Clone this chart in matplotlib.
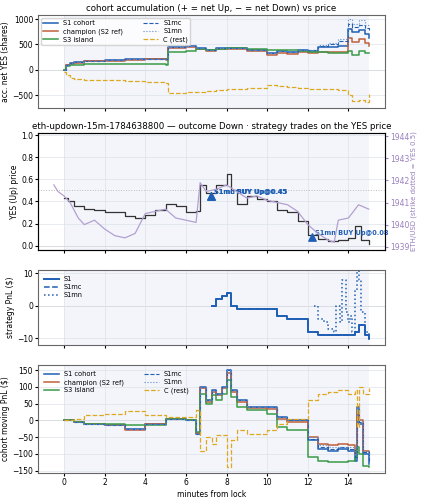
import matplotlib
matplotlib.use("Agg")
import matplotlib.pyplot as plt

# ---- data ----
t1 = [0,0.1,0.3,0.5,1,2,3,4,5,5.1,6,6.5,7,7.5,8,9,10,10.5,11,11.5,12,12.5,13,13.5,14,14.2,14.5,14.8,15]
acc_s1 = [0,100,130,150,180,190,210,220,210,460,470,430,400,440,430,400,340,380,360,400,380,450,460,470,800,750,780,700,630]
acc_ch = [0,90,120,140,170,180,200,210,200,440,450,410,380,420,410,380,300,340,320,360,340,350,350,350,620,550,600,520,470]
acc_s3 = [0,70,90,100,110,110,120,110,100,350,380,410,390,420,430,410,390,400,400,380,350,360,340,340,370,300,380,340,330]
acc_mc = [0,100,130,150,180,190,210,220,210,460,470,430,400,440,430,400,340,380,360,400,390,470,500,560,900,850,880,820,780]
acc_mn = [0,100,130,150,180,190,210,220,210,460,470,430,400,440,430,400,340,380,360,400,400,480,520,600,1000,900,980,880,900]
acc_c = [-50,-100,-150,-180,-190,-200,-210,-240,-250,-450,-440,-430,-420,-400,-380,-360,-300,-320,-340,-360,-380,-370,-380,-400,-500,-620,-600,-640,-480]

t_yes = [0,0.2,0.5,1,1.5,2,2.5,3,3.5,4,4.5,5,5.5,6,6.5,6.7,7,7.5,8,8.2,8.5,9,9.5,10,10.5,11,11.5,12,12.5,13,13.5,14,14.3,14.6,15]
yes = [0.43,0.40,0.36,0.33,0.32,0.30,0.30,0.27,0.25,0.28,0.32,0.38,0.36,0.30,0.31,0.55,0.48,0.55,0.65,0.50,0.38,0.45,0.42,0.40,0.32,0.30,0.22,0.10,0.06,0.04,0.05,0.07,0.18,0.05,0.01]
t_eth = [-0.5,-0.3,0,0.3,0.7,1,1.5,2,2.5,3,3.5,4,4.5,5,5.5,6,6.5,6.7,7,7.5,8,8.5,9,9.5,10,10.5,11,11.5,12,12.5,13,13.3,13.5,14,14.5,15]
eth = [1941.8,1941.5,1941.3,1941.0,1940.3,1940.0,1940.2,1939.8,1939.5,1939.4,1939.6,1940.5,1940.6,1940.7,1940.3,1940.2,1940.1,1941.9,1941.5,1941.6,1941.8,1941.5,1941.2,1941.3,1941.1,1941.0,1940.9,1940.6,1940.0,1939.6,1939.3,1939.2,1940.2,1940.3,1940.9,1940.7]
trade_t = [7.24, 7.24, 12.2]
trade_p = [0.45, 0.45, 0.08]
trade_lbl = ["S1mc BUY Up@0.45", "S1mn BUY Up@0.45", "S1mn BUY Up@0.08"]

t_s1 = [7.3,7.5,7.8,8.0,8.2,8.5,9,9.5,10,10.5,11,11.5,12,12.5,13,13.5,14,14.3,14.5,14.8,15]
pnl_s1 = [0,2,3,4,0,-1,-1,-1,-1,-3,-4,-4,-8,-9,-9,-9,-9,-8,-6,-9,-10]
pnl_mc = [0,2,3,4,0,-1,-1,-1,-1,-3,-4,-4,-8,-9,-9,-9,-9,-8,-6,-9,-10.5]
t_mn = [12.3,12.5,12.8,13,13.3,13.4,13.6,13.7,13.9,14.0,14.1,14.2,14.3,14.4,14.5,14.6,14.8,15]
pnl_mn = [0,-4,-5,-7,-8,0,-5,8,-2,-5,-3,-8,5,12,8,-2,-8,-10]

t4 = [0,0.5,1,2,3,4,5,6,6.5,6.7,7,7.3,7.5,7.8,8,8.2,8.5,9,9.5,10,10.5,11,11.5,12,12.5,13,13.5,14,14.3,14.4,14.5,14.7,15]
mv_s1 = [0,-5,-10,-15,-25,-10,5,0,-40,100,60,90,80,100,150,90,60,40,40,40,10,0,0,-60,-85,-90,-85,-90,-120,40,-10,-100,-130]
mv_ch = [0,-5,-10,-15,-28,-12,3,0,-38,95,55,85,75,95,140,85,55,38,38,35,5,-5,-5,-50,-70,-75,-70,-75,-100,20,0,-90,-95]
mv_s3 = [0,-5,-10,-10,-15,-15,5,0,-35,80,50,75,60,80,120,70,40,30,30,20,-20,-30,-30,-110,-120,-125,-125,-120,-110,-80,-100,-135,-140]
mv_mc = [0,-5,-10,-15,-25,-10,5,0,-40,100,60,90,80,100,150,90,60,40,40,40,10,0,0,-55,-80,-85,-80,-85,-110,35,-5,-95,-120]
mv_mn = [0,-5,-10,-15,-25,-10,5,0,-40,100,60,90,80,100,150,90,60,40,40,40,10,5,5,-50,-75,-80,-78,-80,-100,45,0,-90,-115]
mv_c = [0,5,15,20,28,15,10,10,30,-90,-50,-70,-45,-45,-140,-60,-30,-40,-40,-30,-10,5,5,60,80,85,90,80,90,-20,100,80,95]

# ---- style ----
C_S1 = "#1f5fb4"; C_CH = "#c0603a"; C_S3 = "#3a9a48"; C_C = "#e0a820"; C_ETH = "#b4a0d0"
plt.rcParams.update({"font.size": 5.5, "font.family": "DejaVu Sans"})
fig = plt.figure(figsize=(4.21, 5.0), dpi=100)
L, W = 38/421, 347/421
def ax_at(top, bot):
    return fig.add_axes([L, 1-bot/500, W, (bot-top)/500])
ax1 = ax_at(15, 108); ax2 = ax_at(133, 250); ax3 = ax_at(270, 345); ax4 = ax_at(365, 473)
XL = (-1.28, 15.8)
for a in (ax1, ax2, ax3, ax4):
    a.set_xlim(*XL)
    a.axvspan(0, 15, color="#eef2fa", alpha=0.7, lw=0, zorder=0)
    a.grid(True, color="#dde3ea", lw=0.5)
    a.axhline(0, color="#cccccc", lw=0.6, zorder=1)
    a.set_xticks(range(0, 15, 2))
    for s in a.spines.values():
        s.set_color("#666666")
    a.tick_params(length=2, pad=1.5)
    a.yaxis.labelpad = 1.5
for a in (ax1, ax2, ax3):
    a.tick_params(labelbottom=False)

kw = dict(drawstyle="steps-post", lw=1.1)
ax1.plot(t1, acc_s1, color=C_S1, label="S1 cohort", **kw)
ax1.plot(t1, acc_ch, color=C_CH, label="champion (S2 ref)", **kw)
ax1.plot(t1, acc_s3, color=C_S3, label="S3 island", **kw)
ax1.plot(t1, acc_mc, color=C_S1, ls="--", label="S1mc", drawstyle="steps-post", lw=0.8)
ax1.plot(t1, acc_mn, color="#5b8ad0", ls=":", label="S1mn", drawstyle="steps-post", lw=0.8)
ax1.plot(t1, acc_c, color=C_C, ls="--", label="C (rest)", drawstyle="steps-post", lw=0.9)
ax1.set_ylim(-750, 1080); ax1.set_yticks([-500, 0, 500, 1000])
ax1.set_ylabel("acc. net YES (shares)")
ax1.set_title("cohort accumulation (+ = net Up, − = net Down) vs price", fontsize=6.2, pad=3)
ax1.legend(ncol=2, fontsize=4.8, loc="upper left", frameon=True, handlelength=2.2, borderpad=0.3, labelspacing=0.3, columnspacing=3)

ax2.plot(t_yes, yes, color="#333333", lw=0.9, drawstyle="steps-post")
ax2.axhline(0.5, color="#bbbbbb", ls=":", lw=0.7)
ax2.set_ylim(-0.04, 1.02); ax2.set_yticks([0, 0.2, 0.4, 0.6, 0.8, 1.0])
ax2.set_ylabel("YES (Up) price")
ax2.set_title("eth-updown-15m-1784638800 — outcome Down · strategy trades on the YES price", fontsize=6.2, pad=3)
ax2.scatter(trade_t, trade_p, marker="^", color=C_S1, s=28, zorder=5)
for x, y, s in zip(trade_t, trade_p, trade_lbl):
    ax2.text(x + 0.15, y + 0.02, s, color=C_S1, fontsize=4.8, fontweight="bold")
tw = ax2.twinx()
tw.plot(t_eth, eth, color=C_ETH, lw=0.9)
tw.set_ylim(1938.85, 1944.15); tw.set_yticks(range(1939, 1945))
tw.tick_params(colors="#9a80c0", length=2, pad=1.5)
tw.set_ylabel("ETH/USD (strike dotted = YES 0.5)", color="#9a80c0", fontsize=5, labelpad=1)

ax3.plot(t_s1, pnl_s1, color=C_S1, lw=1.4, label="S1", drawstyle="steps-post")
ax3.plot(t_s1, pnl_mc, color=C_S1, lw=1.1, ls="--", label="S1mc", drawstyle="steps-post")
ax3.plot(t_mn, pnl_mn, color=C_S1, lw=1.1, ls=":", label="S1mn", drawstyle="steps-post")
ax3.set_ylim(-12, 11); ax3.set_yticks([-10, 0, 10])
ax3.set_ylabel("strategy PnL ($)")
ax3.legend(fontsize=4.8, loc="upper left", frameon=False, handlelength=2.2, labelspacing=0.3)

ax4.plot(t4, mv_s1, color=C_S1, label="S1 cohort", **kw)
ax4.plot(t4, mv_ch, color=C_CH, label="champion (S2 ref)", **kw)
ax4.plot(t4, mv_s3, color=C_S3, label="S3 island", **kw)
ax4.plot(t4, mv_mc, color=C_S1, ls="--", label="S1mc", drawstyle="steps-post", lw=0.8)
ax4.plot(t4, mv_mn, color="#5b8ad0", ls=":", label="S1mn", drawstyle="steps-post", lw=0.8)
ax4.plot(t4, mv_c, color=C_C, ls="--", label="C (rest)", drawstyle="steps-post", lw=0.9)
ax4.set_ylim(-157, 165); ax4.set_yticks(range(-150, 151, 50))
ax4.set_ylabel("cohort moving PnL ($)")
ax4.set_xlabel("minutes from lock", labelpad=2)
ax4.legend(ncol=2, fontsize=4.8, loc="upper left", frameon=False, handlelength=2.2, labelspacing=0.3, columnspacing=3)

fig.savefig("out.png", dpi=100)
